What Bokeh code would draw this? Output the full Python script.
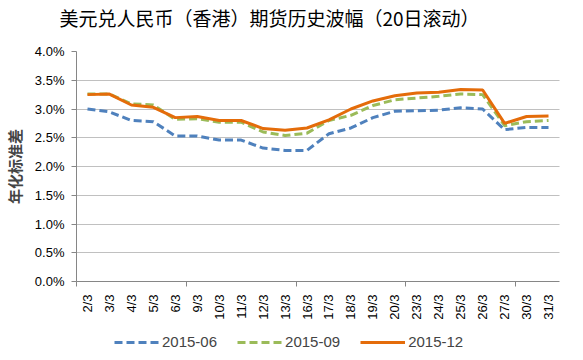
import numpy as np
from bokeh.plotting import figure
from bokeh.layouts import column
from bokeh.models import (Range1d, FixedTicker, PrintfTickFormatter, Title, Legend, LegendItem)
from bokeh.embed import file_html
from bokeh.resources import INLINE

dates = ["2/3", "3/3", "4/3", "5/3", "6/3", "9/3", "10/3", "11/3", "12/3", "13/3", "16/3",
         "17/3", "18/3", "19/3", "20/3", "23/3", "24/3", "25/3", "26/3", "27/3", "30/3", "31/3"]
s_2015_06 = [3.00, 2.95, 2.80, 2.78, 2.53, 2.53, 2.46, 2.46, 2.32, 2.28, 2.28,
             2.57, 2.67, 2.85, 2.96, 2.97, 2.98, 3.02, 3.00, 2.64, 2.68, 2.68]
s_2015_09 = [3.26, 3.26, 3.09, 3.07, 2.82, 2.83, 2.77, 2.77, 2.60, 2.54, 2.58,
             2.80, 2.89, 3.06, 3.16, 3.19, 3.22, 3.26, 3.25, 2.71, 2.78, 2.80]
s_2015_12 = [3.25, 3.26, 3.07, 3.03, 2.85, 2.87, 2.80, 2.80, 2.66, 2.63, 2.67,
             2.81, 3.00, 3.14, 3.23, 3.28, 3.29, 3.34, 3.33, 2.75, 2.87, 2.88]
series_names = ["2015-06", "2015-09", "2015-12"]
series_colors = ["#4F81BD", "#9BBB59", "#E46C0A"]
series_dash = ["8 4", "8 4", "solid"]
y_ticks = [0.0, 0.5, 1.0, 1.5, 2.0, 2.5, 3.0, 3.5, 4.0]
title_text = "美元兑人民币（香港）期货历史波幅（20日滚动）"
y_label = "年化标准差"

n = len(dates)
xs = np.arange(n) + 0.5
series = [s_2015_06, s_2015_09, s_2015_12]

FONT = "Liberation Sans"
AX = "#868686"

# title strip (title sits in the side panel, so it is not clipped)
ttl = Title(text=title_text, align="left", offset=-17, standoff=2, vertical_align="bottom",
            text_font="Noto Sans CJK SC", text_font_size="19px",
            text_font_style="normal", text_color="#000000")
tt = figure(width=567, height=32, output_backend="svg", toolbar_location=None, title=ttl,
            x_range=Range1d(0, 1), y_range=Range1d(0, 1),
            x_axis_location=None, y_axis_location=None,
            min_border_left=69, min_border_right=8, min_border_top=0, min_border_bottom=0)
tt.grid.visible = False
tt.outline_line_color = None

# main chart
p = figure(width=567, height=294, output_backend="svg", toolbar_location=None,
           x_range=Range1d(0, n), y_range=Range1d(0, 4.0),
           min_border_left=69, min_border_right=8, min_border_top=19, min_border_bottom=45)
p.outline_line_color = None
p.background_fill_color = "white"

p.xaxis.ticker = FixedTicker(ticks=list(xs), minor_ticks=[0, 5, 10, 15, 20])
p.xaxis.major_label_overrides = {float(x): d for x, d in zip(xs, dates)}
p.xaxis.major_label_orientation = np.pi / 2
p.xaxis.major_tick_out = 0
p.xaxis.major_tick_in = 0
p.xaxis.minor_tick_out = 5
p.xaxis.minor_tick_in = 0
p.xaxis.minor_tick_line_color = AX
p.xaxis.axis_line_color = AX
p.xaxis.major_label_text_font = FONT
p.xaxis.major_label_text_font_size = "13px"
p.xaxis.major_label_text_color = "#000000"
p.xaxis.major_label_standoff = 8

p.yaxis.ticker = FixedTicker(ticks=y_ticks)
p.yaxis.formatter = PrintfTickFormatter(format="%.1f%%")
p.yaxis.major_tick_out = 5
p.yaxis.major_tick_in = 0
p.yaxis.minor_tick_line_color = None
p.yaxis.major_tick_line_color = AX
p.yaxis.axis_line_color = AX
p.yaxis.major_label_text_font = FONT
p.yaxis.major_label_text_font_size = "13px"
p.yaxis.major_label_text_color = "#000000"
p.yaxis.major_label_standoff = 7
p.yaxis.axis_label = y_label
p.yaxis.axis_label_text_font = "Noto Sans CJK SC"
p.yaxis.axis_label_text_font_style = "bold"
p.yaxis.axis_label_text_font_size = "15px"
p.yaxis.axis_label_standoff = 7

p.xgrid.grid_line_color = None
p.ygrid.grid_line_color = "#808080"
p.ygrid.grid_line_dash = "1 1"
p.ygrid.grid_line_width = 1

for vals, col, dash in zip(series, series_colors, series_dash):
    p.line(xs, vals, line_color=col, line_width=3, line_dash=dash)

# legend strip (frame aligned with the main chart's frame)
lg = figure(width=567, height=28, output_backend="svg", toolbar_location=None,
            x_range=Range1d(0, n), y_range=Range1d(100, 101),
            x_axis_location=None, y_axis_location=None,
            min_border_left=69, min_border_right=8, min_border_top=0, min_border_bottom=0)
lg.grid.visible = False
lg.outline_line_color = None
items = []
for name, vals, col, dash in zip(series_names, series, series_colors, series_dash):
    r = lg.line(xs, vals, line_color=col, line_width=3, line_dash=dash)
    items.append(LegendItem(label=name, renderers=[r]))

legend = Legend(items=items, orientation="horizontal", location=(38, 4),
                padding=0, margin=0, spacing=20, glyph_width=45, glyph_height=16,
                label_height=16, label_standoff=3,
                label_text_font=FONT, label_text_font_size="15px",
                border_line_color=None, background_fill_alpha=0)
lg.add_layout(legend, "center")

open("out.html", "w").write(file_html(column(tt, p, lg, spacing=0), INLINE))
